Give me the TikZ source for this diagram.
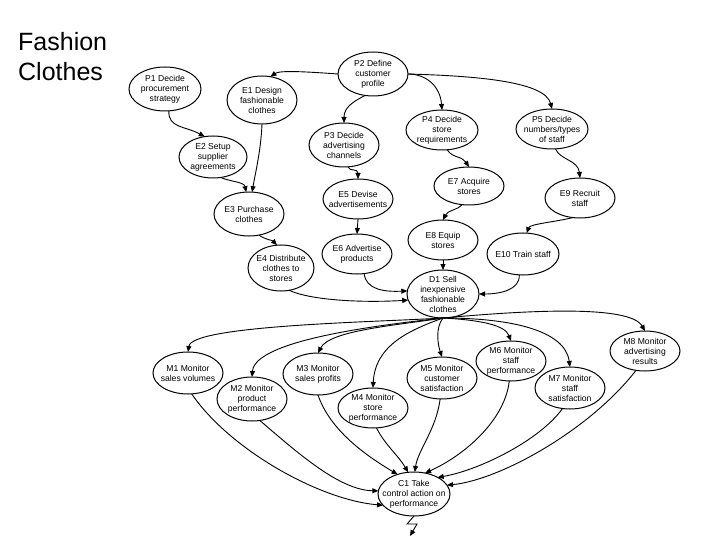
\documentclass[tikz,border=0pt]{standalone}
\usepackage{fontspec}
\setmainfont{Liberation Sans}
\usetikzlibrary{shapes.geometric,arrows.meta}
\tikzset{
  ell/.style={draw, ellipse, line width=1pt, inner sep=0pt, outer sep=0pt},
  etext/.style={align=center, font=\fontsize{8.6}{10}\selectfont, inner sep=0pt},
  conn/.style={line width=0.9pt, -{Triangle[length=6pt,width=5pt]}},
  titletext/.style={font=\fontsize{25}{30}\selectfont, anchor=base west, inner sep=0pt}
}
\newcommand\enode[5]{%
  \node[ell, minimum width=#3, minimum height=#4] (#1) at #2 {};
  \node[etext] (#1-t) at (#1) {#5};}
\begin{document}
\begin{tikzpicture}[x=1pt,y=1pt]
\fill[white] (0,0) rectangle (720,-540);
\useasboundingbox (0,0) rectangle (720,-540);

\node[titletext] (title1) at (18,-51) {Fashion};
\node[titletext] (title2) at (18,-81) {Clothes};

\enode{P1}{(165,-89)}{72pt}{44pt}{P1 Decide\\procurement\\strategy}
\enode{E1}{(262,-100)}{70pt}{48pt}{E1 Design\\fashionable\\clothes}
\enode{P2}{(373,-74)}{70pt}{44pt}{P2 Define\\customer\\profile}
\enode{P3}{(344,-145)}{70pt}{44pt}{P3 Decide\\advertising\\channels}
\enode{P4}{(442,-130)}{72pt}{40pt}{P4 Decide\\store\\requirements}
\enode{P5}{(552,-129)}{72pt}{40pt}{P5 Decide\\numbers/types\\of staff}
\enode{E2}{(213,-157)}{68pt}{42pt}{E2 Setup\\supplier\\agreements}
\enode{E7}{(469,-186)}{70pt}{38pt}{E7 Acquire\\stores}
\enode{E9}{(580,-198)}{70pt}{40pt}{E9 Recruit\\staff}
\enode{E5}{(358,-199)}{70pt}{40pt}{E5 Devise\\advertisements}
\enode{E3}{(249,-214)}{70pt}{44pt}{E3 Purchase\\clothes}
\enode{E8}{(443,-240)}{70pt}{40pt}{E8 Equip\\stores}
\enode{E6}{(357,-254)}{70pt}{40pt}{E6 Advertise\\products}
\enode{E4}{(281,-268)}{66pt}{46pt}{E4 Distribute\\clothes to\\stores}
\enode{E10}{(523,-254)}{72pt}{42pt}{E10 Train staff}
\enode{D1}{(443,-294)}{72pt}{48pt}{D1 Sell\\inexpensive\\fashionable\\clothes}
\enode{M1}{(188,-373)}{70pt}{42pt}{M1 Monitor\\sales volumes}
\enode{M2}{(252,-399)}{70pt}{44pt}{M2 Monitor\\product\\performance}
\enode{M3}{(318,-374)}{70pt}{42pt}{M3 Monitor\\sales profits}
\enode{M4}{(373,-408)}{70pt}{40pt}{M4 Monitor\\store\\performance}
\enode{M5}{(442,-378)}{70pt}{42pt}{M5 Monitor\\customer\\satisfaction}
\enode{M6}{(511,-361)}{70pt}{40pt}{M6 Monitor\\staff\\performance}
\enode{M7}{(570,-388)}{70pt}{42pt}{M7 Monitor\\staff\\satisfaction}
\enode{M8}{(645,-351)}{70pt}{40pt}{M8 Monitor\\advertising\\results}
\enode{C1}{(414,-494)}{72pt}{44pt}{C1 Take\\control action on\\performance}

% planning layer
\draw[conn] (P2.west) .. controls (310,-72) and (280,-70) .. (E1.70);
\draw[conn] (P2.250) .. controls (352,-102) and (344,-108) .. (P3.north);
\draw[conn] (P2.east) .. controls (425,-74) and (440,-85) .. (P4.north);
\draw[conn] (P2.east) .. controls (480,-76) and (545,-82) .. (P5.north);
\draw[conn] (P1.280) .. controls (168,-128) and (185,-126) .. (E2.112);
\draw[conn] (E1.south) .. controls (261,-150) and (255,-175) .. (E3.82);
\draw[conn] (E2.-70) .. controls (232,-182) and (244,-182) .. (E3.97);
\draw[conn] (E3.-65) .. controls (266,-240) and (272,-240) .. (E4.100);
\draw[conn] (P3.-80) .. controls (350,-172) and (358,-168) .. (E5.north);
\draw[conn] (E5.south) -- (E6.north);
\draw[conn] (P4.-75) .. controls (452,-158) and (462,-156) .. (E7.north);
\draw[conn] (E7.-110) .. controls (458,-210) and (448,-210) .. (E8.north);
\draw[conn] (E8.south) -- (D1.north);
\draw[conn] (P5.-80) .. controls (560,-160) and (578,-160) .. (E9.north);
\draw[conn] (E9.250) .. controls (555,-222) and (530,-224) .. (E10.80);
\draw[conn] (E10.-100) .. controls (520,-290) and (500,-294) .. (D1.east);
\draw[conn] (E6.-70) .. controls (366,-290) and (385,-292) .. (D1.175);
\draw[conn] (E4.-70) .. controls (310,-300) and (360,-303) .. (D1.190);

% monitoring layer
\draw[conn] (D1.south) .. controls (380,-322) and (192,-325) .. (M1.north);
\draw[conn] (D1.south) .. controls (380,-325) and (255,-340) .. (M2.north);
\draw[conn] (D1.south) .. controls (400,-325) and (330,-330) .. (M3.north);
\draw[conn] (D1.south) .. controls (410,-330) and (375,-345) .. (M4.north);
\draw[conn] (D1.south) .. controls (435,-328) and (438,-345) .. (M5.north);
\draw[conn] (D1.south) .. controls (480,-320) and (505,-325) .. (M6.north);
\draw[conn] (D1.south) .. controls (510,-318) and (565,-330) .. (M7.north);
\draw[conn] (D1.south) .. controls (530,-310) and (630,-305) .. (M8.north);

% control layer
\draw[conn] (M1.-80) .. controls (230,-450) and (320,-500) .. (C1.200);
\draw[conn] (M2.-70) .. controls (300,-455) and (340,-490) .. (C1.175);
\draw[conn] (M3.-90) .. controls (330,-430) and (365,-455) .. (C1.130);
\draw[conn] (M4.-80) .. controls (385,-445) and (398,-455) .. (C1.105);
\draw[conn] (M5.-95) .. controls (436,-430) and (418,-450) .. (C1.88);
\draw[conn] (M6.-95) .. controls (505,-420) and (465,-455) .. (C1.62);
\draw[conn] (M7.-110) .. controls (540,-440) and (480,-470) .. (C1.35);
\draw[conn] (M8.-115) .. controls (590,-430) and (500,-480) .. (C1.15);

\coordinate (zend) at (410,-536);
\draw[conn] (C1.south) -- (407,-524) -- (417,-524) -- (zend);
\end{tikzpicture}
\end{document}
